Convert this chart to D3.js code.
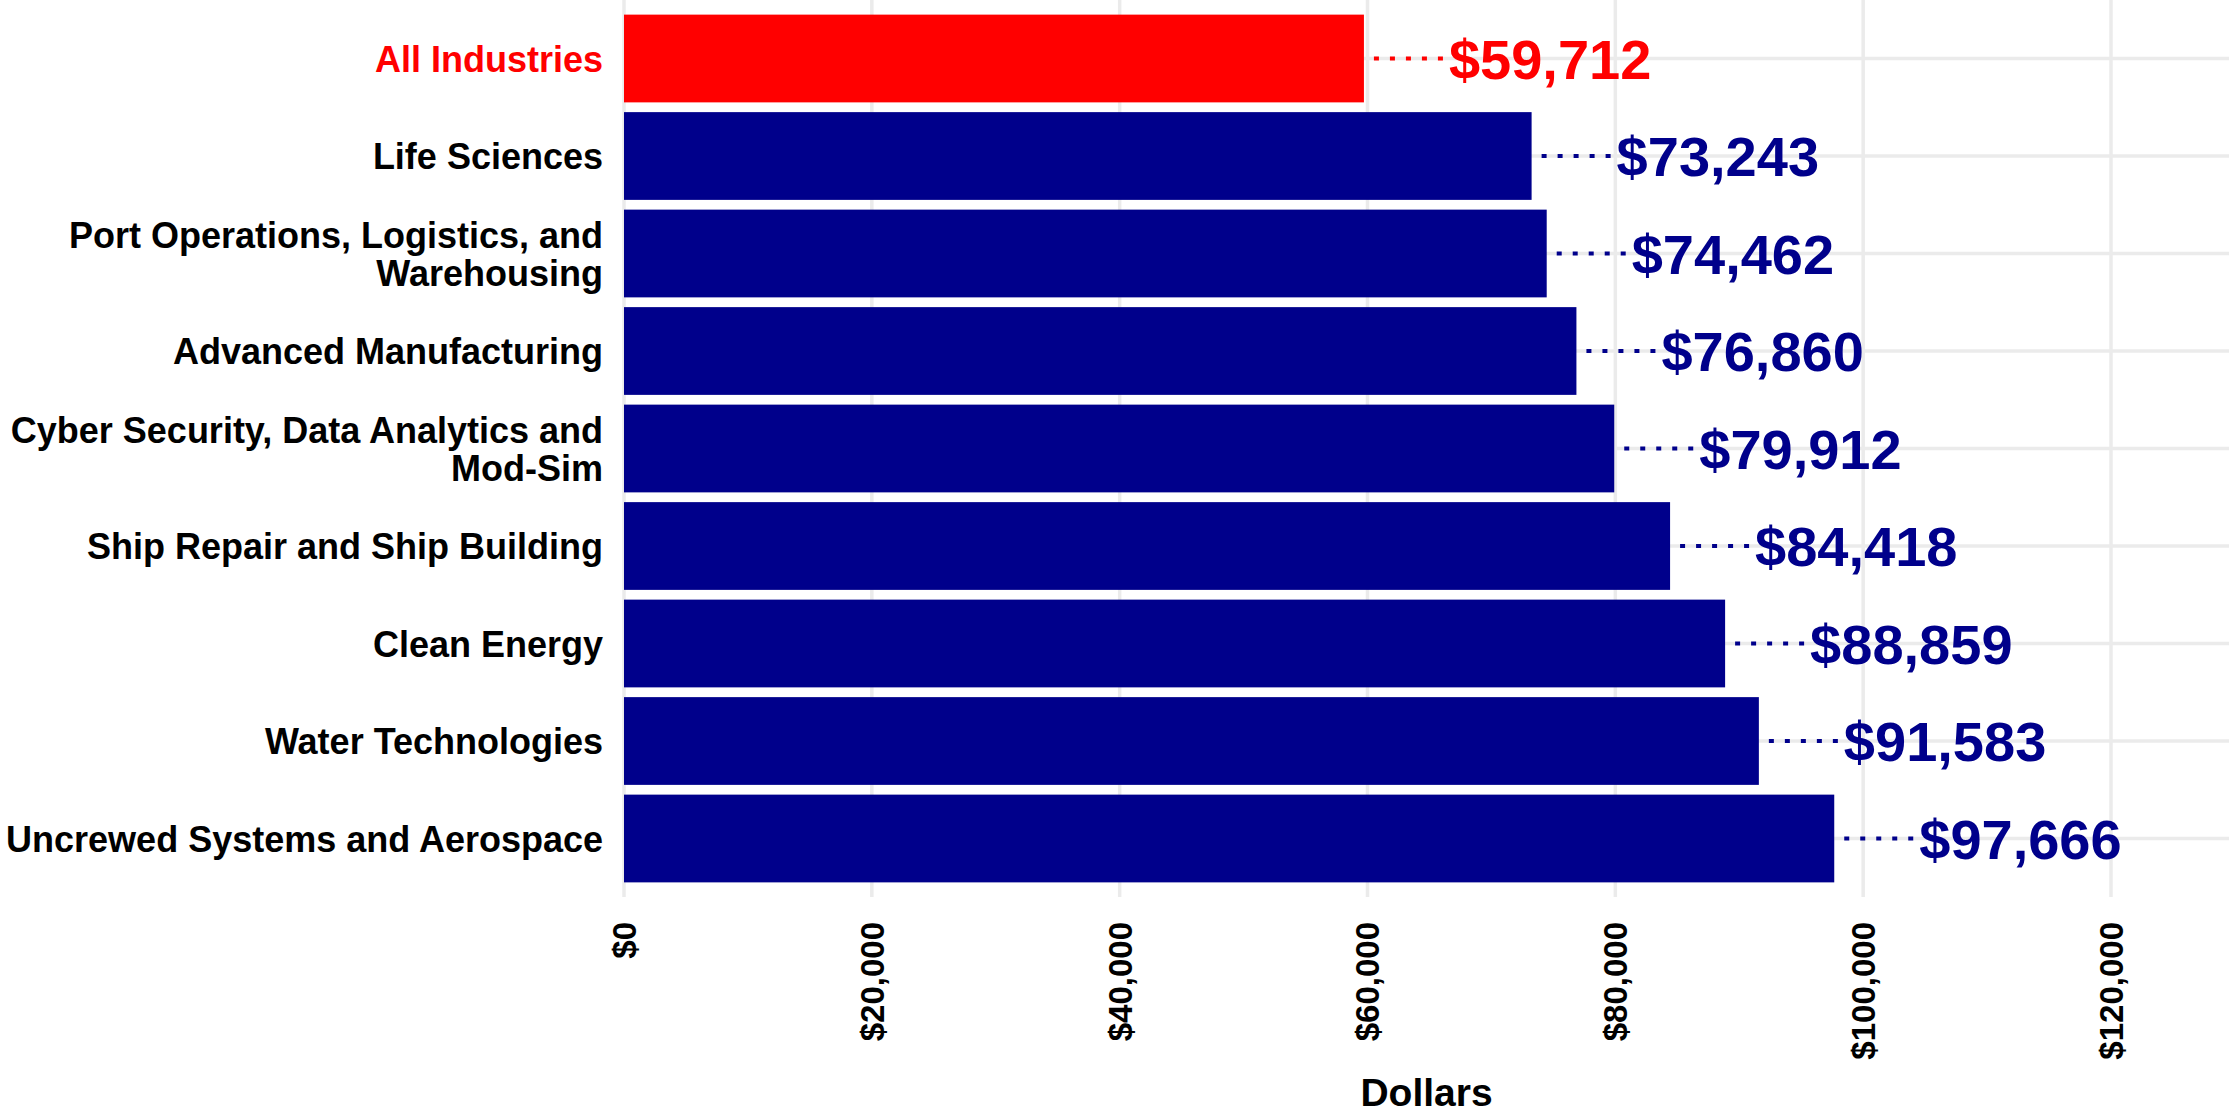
<!DOCTYPE html>
<html>
<head>
<meta charset="utf-8">
<script src="https://cdn.jsdelivr.net/npm/d3@7"></script>
<style>
  html, body { margin: 0; padding: 0; background: #fff; }
  svg { display: block; }
  text { font-family: "Liberation Sans", Arial, Helvetica, sans-serif; font-weight: bold; }
</style>
</head>
<body>
<svg id="chart" width="2229" height="1115"></svg>
<script>
// Average annual wages by industry cluster
const categories = [
  "All Industries",
  "Life Sciences",
  "Port Operations, Logistics, and\nWarehousing",
  "Advanced Manufacturing",
  "Cyber Security, Data Analytics and\nMod-Sim",
  "Ship Repair and Ship Building",
  "Clean Energy",
  "Water Technologies",
  "Uncrewed Systems and Aerospace"
];
const wages = [59712, 73243, 74462, 76860, 79912, 84418, 88859, 91583, 97666];
const highlight = "All Industries";
const xTicks = [0, 20000, 40000, 60000, 80000, 100000, 120000];
const xTitle = "Dollars";

const colorHighlight = "#FF0000";
const colorBase = "#00008B";
const gridColor = "#EBEBEB";

const panel = { left: 624, right: 2229, top: 0, bottom: 897 };

const svg = d3.select("#chart");

const x = d3.scaleLinear().domain([0, 120000]).range([panel.left, 2111]);
const y = d3.scaleBand()
  .domain(categories)
  .range([panel.top, panel.bottom])
  .paddingInner(0.1)
  .paddingOuter(0.15);

const data = categories.map((c, i) => ({ cat: c, value: wages[i] }));
const fill = d => d.cat === highlight ? colorHighlight : colorBase;
const money = v => "$" + d3.format(",")(v);

// grid
const grid = svg.append("g");
grid.selectAll("line.v").data(xTicks).join("line")
  .attr("x1", d => x(d)).attr("x2", d => x(d))
  .attr("y1", panel.top).attr("y2", panel.bottom)
  .attr("stroke", gridColor).attr("stroke-width", 3.5);
grid.selectAll("line.h").data(categories).join("line")
  .attr("x1", panel.left).attr("x2", panel.right)
  .attr("y1", d => y(d) + y.bandwidth() / 2).attr("y2", d => y(d) + y.bandwidth() / 2)
  .attr("stroke", gridColor).attr("stroke-width", 3.5);

// bars
svg.append("g").selectAll("rect").data(data).join("rect")
  .attr("x", x(0))
  .attr("y", d => y(d.cat))
  .attr("width", d => x(d.value) - x(0))
  .attr("height", y.bandwidth())
  .attr("fill", fill);

// dotted leaders
const pxPerDollar = (x(120000) - x(0)) / 120000;
const off = px => px / pxPerDollar;
svg.append("g").selectAll("line").data(data).join("line")
  .attr("x1", d => x(d.value + off(10)))
  .attr("x2", d => x(d.value + off(79)))
  .attr("y1", d => y(d.cat) + y.bandwidth() / 2)
  .attr("y2", d => y(d.cat) + y.bandwidth() / 2)
  .attr("stroke", fill)
  .attr("stroke-width", 4)
  .attr("stroke-dasharray", "5,11");

// value labels
svg.append("g").selectAll("text").data(data).join("text")
  .attr("x", d => x(d.value + off(85)))
  .attr("y", d => y(d.cat) + y.bandwidth() / 2)
  .attr("dy", "0.36em")
  .attr("font-size", 56)
  .attr("fill", fill)
  .text(d => money(d.value));

// category labels
const catG = svg.append("g");
data.forEach(d => {
  const lines = d.cat.split("\n");
  const lh = 38;
  const cy = y(d.cat) + y.bandwidth() / 2;
  const t = catG.append("text")
    .attr("x", 603)
    .attr("text-anchor", "end")
    .attr("font-size", 36)
    .attr("fill", d.cat === highlight ? colorHighlight : "#000");
  lines.forEach((ln, i) => {
    t.append("tspan")
      .attr("x", 603)
      .attr("y", cy + 13 + (i - (lines.length - 1) / 2) * lh)
      .text(ln);
  });
});

// x axis tick labels (rotated)
svg.append("g").selectAll("text").data(xTicks).join("text")
  .attr("transform", d => `translate(${x(d)},922) rotate(-90)`)
  .attr("text-anchor", "end")
  .attr("dy", "0.36em")
  .attr("font-size", 33)
  .attr("fill", "#000")
  .text(d => money(d));

// axis title
svg.append("text")
  .attr("x", (panel.left + panel.right) / 2)
  .attr("y", 1106)
  .attr("text-anchor", "middle")
  .attr("font-size", 39)
  .attr("fill", "#000")
  .text(xTitle);
</script>
</body>
</html>
